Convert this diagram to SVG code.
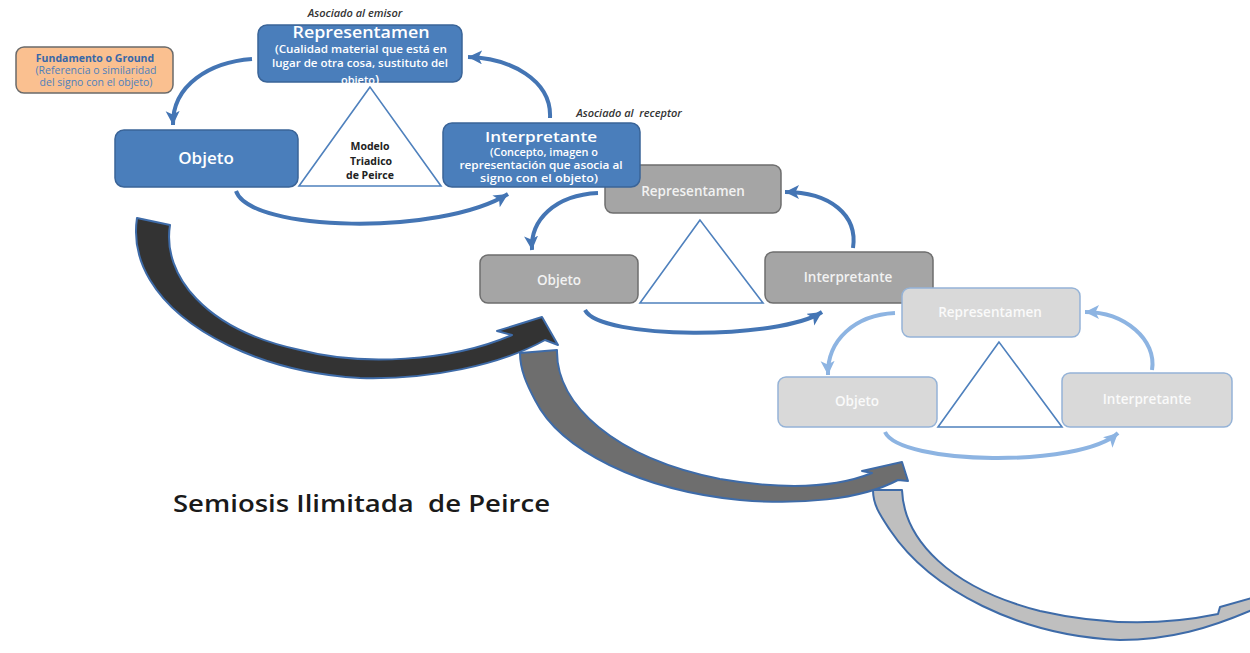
<svg xmlns="http://www.w3.org/2000/svg" width="1250" height="653" viewBox="0 0 1250 653">
<defs>
<style>
text{font-family:"Open Sans","Liberation Sans",Arial,sans-serif;}
.b1{fill:#4A7EBB;stroke:#3A6498;stroke-width:1.5;}
.b2{fill:#A5A5A5;stroke:#6E6E6E;stroke-width:1.5;}
.b3{fill:#D9D9D9;stroke:#95B3D7;stroke-width:1.5;}
.tri{fill:#FFFFFF;stroke:#4F81BD;stroke-width:1.6;}
.lbl{fill:#FFFFFF;font-weight:600;text-anchor:middle;}
.lbl2{fill:#F2F2F2;font-weight:600;text-anchor:middle;}
.lbl3{fill:#FAFAFA;font-weight:600;text-anchor:middle;}
.sub{fill:#FFFFFF;font-weight:600;font-size:11px;text-anchor:middle;}
.ital{fill:#333333;font-style:italic;font-weight:600;font-size:11px;text-anchor:middle;white-space:pre;}
.sa{fill:none;stroke:#4475B4;stroke-width:4;}
.sc{fill:none;stroke:#8DB4E2;stroke-width:4;}
.big{stroke:#3E6BA8;stroke-width:2;stroke-linejoin:round;}
</style>
<marker id="hA" markerUnits="userSpaceOnUse" markerWidth="18" markerHeight="16" refX="14" refY="7" orient="auto">
<path d="M0,0 L14,7 L0,14 L3.5,7 Z" fill="#4475B4"/>
</marker>
<marker id="hC" markerUnits="userSpaceOnUse" markerWidth="18" markerHeight="16" refX="14" refY="7" orient="auto">
<path d="M0,0 L14,7 L0,14 L3.5,7 Z" fill="#8DB4E2"/>
</marker>
</defs>
<rect width="1250" height="653" fill="#FFFFFF"/>

<g id="connectors">
<!-- big semiosis arrows -->
<path class="big" fill="#BFBFBF" d="M873,490 L902,490 C904,540 950,588 1040,611 C1110,627 1170,624 1218,614 L1220,607 L1252,598 L1252,610 C1210,628 1170,640 1120,640 C1020,636 930,590 890,530 C880,515 873,505 873,490 Z"/>
<path class="big" fill="#6E6E6E" d="M520,353 L557,350 C556,405 615,458 720,479 C790,491 840,486 872,473 L862,471 L902,462 L908,481 L898,480 C860,500 800,505 740,500 C640,490 560,450 535,400 C527,385 520,370 520,353 Z"/>
<path class="big" fill="#333333" d="M137,218 L170,225 C162,275 205,330 300,350 C360,366 450,362 512,335 L497,331 L542,317 L558,345 L545,340 C500,365 430,380 360,378 C260,372 180,330 150,280 C138,260 134,238 137,218 Z"/>
<!-- set 1 -->
<path class="sa" marker-end="url(#hA)" d="M252,59 C210,62 172,85 173,125"/>
<path class="sa" marker-end="url(#hA)" d="M550,118 C552,80 510,58 468,57"/>
<path class="sa" marker-end="url(#hA)" d="M236,191 C250,232 440,236 508,194"/>
<!-- set 2 -->
<path class="sa" marker-end="url(#hA)" d="M598,193 C555,195 530,220 532,250"/>
<path class="sa" marker-end="url(#hA)" d="M853,248 C858,215 830,192 785,192"/>
<path class="sa" marker-end="url(#hA)" d="M585,310 C600,340 780,340 822,312"/>
<!-- set 3 -->
<path class="sc" marker-end="url(#hC)" d="M895,313 C855,315 827,340 828,375"/>
<path class="sc" marker-end="url(#hC)" d="M1152,370 C1157,340 1125,312 1085,312"/>
<path class="sc" marker-end="url(#hC)" d="M885,432 C900,465 1080,468 1118,433"/>
</g>

<!-- Set 1 -->
<g id="fundamento">
<rect x="16" y="47" width="157" height="46" rx="8" fill="#FAC090" stroke="#6A6A6A" stroke-width="1.5"/>
<text x="95" y="62" font-size="10.5" font-weight="700" fill="#3767A8" text-anchor="middle">Fundamento o Ground</text>
<text x="96" y="74" font-size="10.5" fill="#4F81BD" text-anchor="middle">(Referencia o similaridad</text>
<text x="96" y="86" font-size="10.5" fill="#4F81BD" text-anchor="middle">del signo con el objeto)</text>
</g>

<g id="emisor-label">
<text class="ital" x="355" y="17">Asociado al emisor</text>
</g>

<g id="representamen1">
<rect class="b1" x="258" y="25" width="204" height="57" rx="9"/>
<text class="lbl" x="361" y="38" font-size="16" textLength="137" lengthAdjust="spacingAndGlyphs">Representamen</text>
<text class="sub" x="361" y="53" textLength="172" lengthAdjust="spacingAndGlyphs">(Cualidad material que está en</text>
<text class="sub" x="360" y="67" textLength="176" lengthAdjust="spacingAndGlyphs">lugar de otra cosa, sustituto del</text>
<text class="sub" x="360" y="84">objeto<tspan font-size="13">)</tspan></text>
</g>

<g id="objeto1">
<rect class="b1" x="115" y="130" width="183" height="57" rx="9"/>
<text class="lbl" x="206" y="164" font-size="17">Objeto</text>
</g>

<g id="triangulo1">
<polygon class="tri" points="370,87 299,186 441,186"/>
<text x="370" y="150" font-size="10.5" font-weight="700" fill="#222222" text-anchor="middle">Modelo</text>
<text x="371" y="165" font-size="10.5" font-weight="700" fill="#222222" text-anchor="middle">Triadico</text>
<text x="370" y="179" font-size="10.5" font-weight="700" fill="#222222" text-anchor="middle">de Peirce</text>
</g>

<g id="receptor-label">
<text class="ital" x="629" y="117">Asociado al  receptor</text>
</g>

<!-- Set 2 -->
<g id="representamen2">
<rect class="b2" x="605" y="165" width="176" height="48" rx="8"/>
<text class="lbl2" x="693" y="196" font-size="13.5">Representamen</text>
</g>

<g id="interpretante1">
<rect class="b1" x="443" y="123" width="197" height="64" rx="9"/>
<text class="lbl" x="541" y="142" font-size="15" textLength="112" lengthAdjust="spacingAndGlyphs">Interpretante</text>
<text class="sub" x="544" y="156" textLength="108" lengthAdjust="spacingAndGlyphs">(Concepto, imagen o</text>
<text class="sub" x="541" y="169" textLength="163" lengthAdjust="spacingAndGlyphs">representación que asocia al</text>
<text class="sub" x="539" y="182" textLength="118" lengthAdjust="spacingAndGlyphs">signo con el objeto)</text>
</g>

<g id="objeto2">
<rect class="b2" x="480" y="255" width="158" height="48" rx="8"/>
<text class="lbl2" x="559" y="285" font-size="13.5">Objeto</text>
</g>

<g id="triangulo2">
<polygon class="tri" points="700,220 640,303 763,303"/>
</g>

<g id="interpretante2">
<rect class="b2" x="765" y="252" width="168" height="51" rx="8"/>
<text class="lbl2" x="848" y="282" font-size="13.5">Interpretante</text>
</g>

<!-- Set 3 -->
<g id="representamen3">
<rect class="b3" x="902" y="288" width="178" height="49" rx="8"/>
<text class="lbl3" x="990" y="317" font-size="13.5">Representamen</text>
</g>

<g id="objeto3">
<rect class="b3" x="778" y="377" width="159" height="50" rx="8"/>
<text class="lbl3" x="857" y="406" font-size="13.5">Objeto</text>
</g>

<g id="triangulo3">
<polygon class="tri" points="999,342 938,427 1062,427"/>
</g>

<g id="interpretante3">
<rect class="b3" x="1062" y="373" width="170" height="54" rx="8"/>
<text class="lbl3" x="1147" y="404" font-size="13.5">Interpretante</text>
</g>

<g id="titulo">
<text x="173" y="512" font-size="24" font-weight="600" fill="#1A1A1A" textLength="377" lengthAdjust="spacingAndGlyphs" style="white-space:pre">Semiosis Ilimitada  de Peirce</text>
</g>
</svg>
